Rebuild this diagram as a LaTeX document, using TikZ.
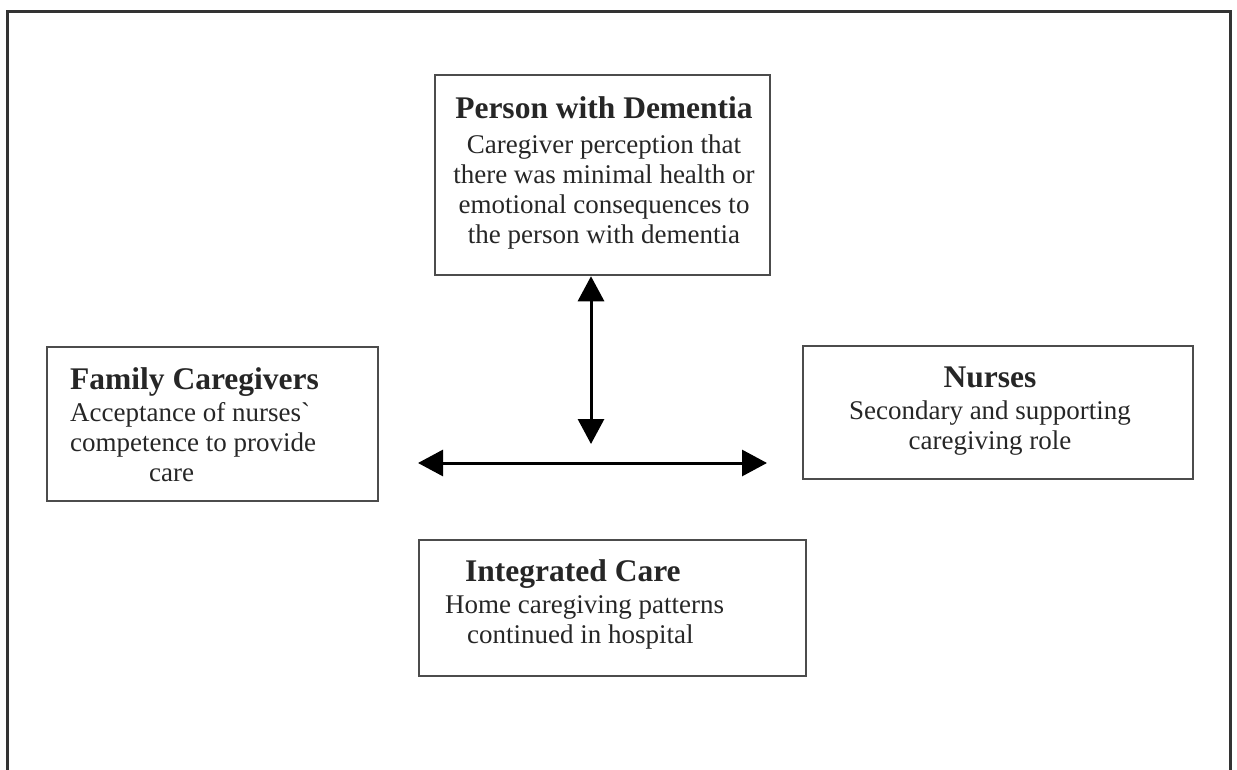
\documentclass[tikz,border=0pt]{standalone}
\usepackage{fontspec}
\setmainfont{Liberation Serif}
\usepackage{tikz}
\usetikzlibrary{arrows.meta, positioning}

\newcommand{\boxtitle}[1]{{\fontsize{31.5}{30}\selectfont\bfseries #1}}

\tikzset{
    box/.style={draw=black!70, line width=2.5pt, inner sep=0pt},
    txt/.style={font=\fontsize{27}{30}\selectfont, text=black!85, inner sep=0pt},
    link/.style={line width=3pt, {Triangle[length=25pt,width=26pt]}-{Triangle[length=25pt,width=26pt]}}
}

\begin{document}
\begin{tikzpicture}[x=1pt, y=-1pt]
\useasboundingbox (0,0) rectangle (1237,770);

% Outer frame (open at the bottom)
\draw[black!80, line width=3pt] (7,770) -- (7,12) -- (1230,12) -- (1230,770);

% Boxes
\node[box, minimum width=335pt, minimum height=200pt] (pwd) at (602.5,175) {};
\node[box, minimum width=331pt, minimum height=154pt] (family) at (212.5,424) {};
\node[box, minimum width=390pt, minimum height=133pt] (nurses) at (998,412.5) {};
\node[box, minimum width=387pt, minimum height=136pt] (integrated) at (612.5,608) {};

% Box texts
\node[txt, anchor=north, align=center] (pwdtext) at (604,96)
    {\boxtitle{Person with Dementia}\\[5pt]
     Caregiver perception that\\
     there was minimal health or\\
     emotional consequences to\\
     the person with dementia};
\node[txt, anchor=north west, align=left] (familytext) at (70,367)
    {\boxtitle{Family Caregivers}\\[2pt]
     Acceptance of nurses\textasciigrave\\
     competence to provide\\
     \hspace*{79pt}care};
\node[txt, anchor=north, align=center] (nursestext) at (990,367)
    {\boxtitle{Nurses}\\[2pt]
     Secondary and supporting\\
     caregiving role};
\node[txt, anchor=north west, align=left] (integratedtext) at (445,559)
    {\hspace*{20pt}\boxtitle{Integrated Care}\\[2pt]
     Home caregiving patterns\\
     \hspace*{22pt}continued in hospital};

% Connectors
\coordinate (downend) at (591,444);
\coordinate (leftend) at (418,463);
\coordinate (rightend) at (767,463);
\draw[link] (pwd.south -| downend) -- (downend);
\draw[link] (leftend) -- (rightend);

\end{tikzpicture}
\end{document}
